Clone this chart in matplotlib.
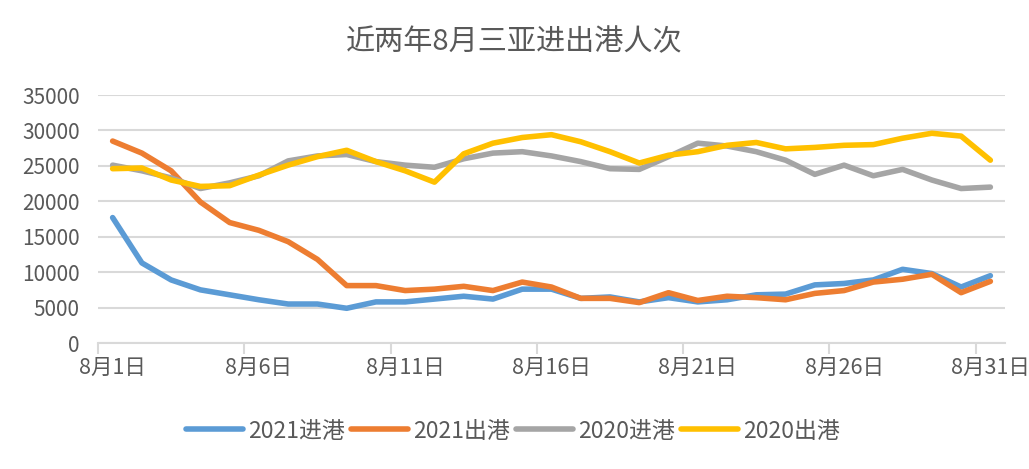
import matplotlib
matplotlib.use("Agg")
import matplotlib.pyplot as plt
import numpy as np

plt.rcParams['font.family'] = ['Noto Sans CJK SC', 'DejaVu Sans']

# 8月1日 .. 8月31日
days = [f"8月{d}日" for d in range(1, 32)]

in_2021 = [17700, 11300, 8900, 7500, 6800, 6100, 5500, 5500, 4900, 5800,
           5800, 6200, 6600, 6200, 7600, 7600, 6300, 6500, 5800, 6400,
           5800, 6100, 6800, 6900, 8200, 8400, 8900, 10400, 9800, 7900, 9500]
out_2021 = [28500, 26800, 24300, 19900, 17000, 15900, 14300, 11800, 8100, 8100,
            7400, 7600, 8000, 7400, 8600, 7900, 6300, 6300, 5700, 7100,
            6000, 6600, 6400, 6100, 7000, 7400, 8600, 9000, 9700, 7100, 8700]
in_2020 = [25100, 24300, 23300, 21800, 22600, 23600, 25700, 26400, 26600, 25600,
           25100, 24800, 26000, 26800, 27000, 26400, 25600, 24600, 24500, 26300,
           28200, 27800, 27000, 25800, 23800, 25100, 23600, 24500, 23000, 21800, 22000]
out_2020 = [24600, 24700, 23000, 22100, 22200, 23700, 25100, 26300, 27200, 25600,
            24300, 22700, 26700, 28200, 29000, 29400, 28400, 27000, 25400, 26500,
            27000, 27900, 28300, 27400, 27600, 27900, 28000, 28900, 29600, 29200, 25800]

series = [("2021进港", in_2021, "#5B9BD5"),
          ("2021出港", out_2021, "#ED7D31"),
          ("2020进港", in_2020, "#A5A5A5"),
          ("2020出港", out_2020, "#FFC000")]

fig = plt.figure(figsize=(10.29, 4.69), dpi=100)
ax = fig.add_axes([98 / 1029, 1 - 343 / 469, (1005 - 98) / 1029, (343 - 95) / 469])

x = np.arange(len(days))
for name, vals, col in series:
    ax.plot(x, vals, color=col, lw=4, label=name, solid_capstyle='round',
            solid_joinstyle='round')

ax.set_xlim(-0.5, len(days) - 0.5)
ax.set_ylim(0, 35000)
ax.set_yticks(np.arange(0, 35001, 5000))
ax.yaxis.grid(True, color='#D9D9D9', lw=1.5)
ax.set_axisbelow(True)

ax.set_xticks(x[::5])
ax.set_xticklabels(days[::5])
ax.set_xticks(np.arange(-0.5, len(days), 5), minor=True)
ax.tick_params(axis='x', which='major', length=0, pad=10, labelsize=15.5, labelcolor='#595959')
ax.tick_params(axis='x', which='minor', length=8, width=1.5, color='#D9D9D9')
ax.tick_params(axis='y', length=0, pad=13, labelsize=15, labelcolor='#595959')

for s in ['top', 'right', 'left']:
    ax.spines[s].set_visible(False)
ax.spines['bottom'].set_color('#D9D9D9')
ax.spines['bottom'].set_linewidth(1.5)

fig.text(0.5, 1 - 42 / 469, "近两年8月三亚进出港人次", ha='center', va='center',
         fontsize=21, color='#595959')

fig.legend(loc='center', bbox_to_anchor=(513 / 1029, 1 - 431 / 469), ncol=4,
           frameon=False, fontsize=16.5, handlelength=2.5, handletextpad=0.22,
           columnspacing=0.26, labelcolor='#595959')

fig.savefig("out.png", dpi=100)
